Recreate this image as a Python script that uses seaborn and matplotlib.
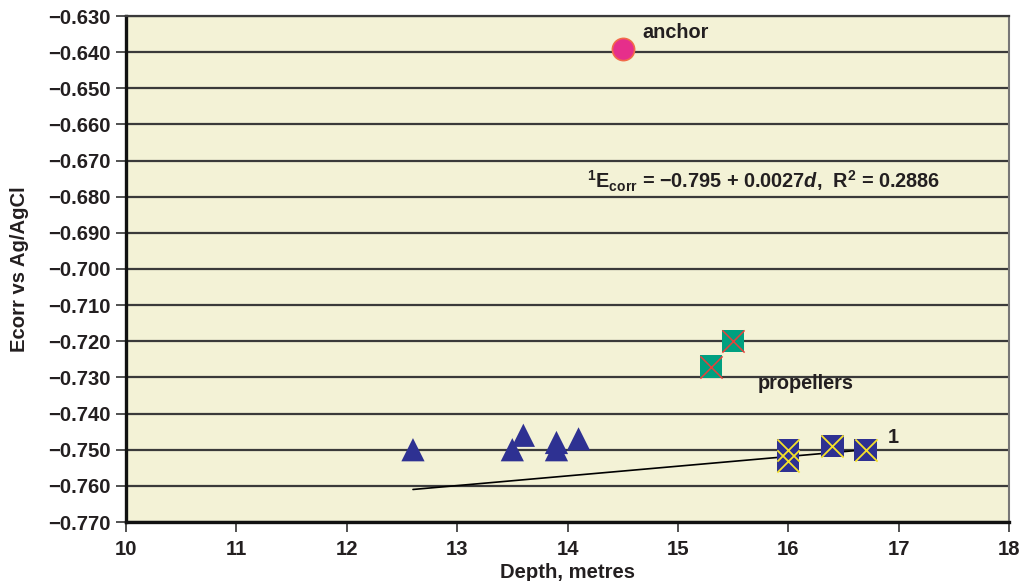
import matplotlib
matplotlib.use("Agg")
import matplotlib.pyplot as plt
import seaborn as sns
import pandas as pd

# data
tri_depth = [12.6, 13.5, 13.6, 13.9, 13.9, 14.1]
tri_ecorr = [-0.750, -0.750, -0.746, -0.748, -0.750, -0.747]

sq_depth = [16.0, 16.0, 16.4, 16.7]
sq_ecorr = [-0.750, -0.753, -0.749, -0.750]

prop_depth = [15.3, 15.5]
prop_ecorr = [-0.727, -0.720]

anchor_depth = [14.5]
anchor_ecorr = [-0.639]

fit_depth = [12.6, 16.7]
fit_ecorr = [-0.761, -0.750]

y_ticks = [-0.630 - 0.010 * i for i in range(15)]
x_ticks = list(range(10, 19))

sns.set_style("white")
plt.rcParams["font.family"] = ["Liberation Sans", "DejaVu Sans"]
plt.rcParams["font.weight"] = "bold"
plt.rcParams["mathtext.fontset"] = "custom"
plt.rcParams["mathtext.rm"] = "Liberation Sans:bold"
plt.rcParams["mathtext.it"] = "Liberation Sans:italic:bold"
plt.rcParams["mathtext.bf"] = "Liberation Sans:bold"

fig = plt.figure(figsize=(10.21, 5.81), dpi=100)
ax = fig.add_axes([126 / 1021, 1 - 522 / 581, (1009 - 126) / 1021, (522 - 16) / 581])
ax.set_facecolor("#F3F2D6")

navy = "#2E3192"
txt = "#231f20"

# grid lines
for yv in y_ticks:
    ax.axhline(yv, color="#3a3a3a", lw=1.6, zorder=1)

fit_df = pd.DataFrame({"d": fit_depth, "e": fit_ecorr})
sns.lineplot(data=fit_df, x="d", y="e", ax=ax, color="black", lw=1.2, zorder=2)

tri_df = pd.DataFrame({"d": tri_depth, "e": tri_ecorr})
sns.scatterplot(data=tri_df, x="d", y="e", ax=ax, marker="^", s=280,
                color=navy, edgecolor="none", zorder=3)

sq_df = pd.DataFrame({"d": sq_depth, "e": sq_ecorr})
sns.scatterplot(data=sq_df, x="d", y="e", ax=ax, marker="s", s=256,
                color=navy, edgecolor="none", zorder=3)
sns.scatterplot(data=sq_df, x="d", y="e", ax=ax, marker="x", s=256,
                color="#F5E12A", linewidth=1.3, zorder=4)

prop_df = pd.DataFrame({"d": prop_depth, "e": prop_ecorr})
sns.scatterplot(data=prop_df, x="d", y="e", ax=ax, marker="s", s=256,
                color="#00A080", edgecolor="none", zorder=3)
sns.scatterplot(data=prop_df, x="d", y="e", ax=ax, marker="x", s=256,
                color="#E8403A", linewidth=1.1, zorder=4)

anchor_df = pd.DataFrame({"d": anchor_depth, "e": anchor_ecorr})
sns.scatterplot(data=anchor_df, x="d", y="e", ax=ax, marker="o", s=256,
                color="#E62E8B", edgecolor="#F26A4A", linewidth=1.2, zorder=3)

# labels on the plot
fs = 14.3
ax.text(14.68, -0.6345, "anchor", fontsize=fs, fontweight="bold",
        va="center", ha="left", color=txt)
ax.text(15.72, -0.7316, "propellers", fontsize=fs, fontweight="bold",
        va="center", ha="left", color=txt)
ax.text(16.9, -0.7465, "1", fontsize=fs, fontweight="bold",
        va="center", ha="left", color=txt)
ax.text(14.18, -0.6757,
        r"$^{1}$E$_{\mathrm{corr}}$ = $\mathbf{-}$0.795 + 0.0027$\mathit{d}$,  R$^{2}$ = 0.2886",
        fontsize=fs, fontweight="bold", va="center", ha="left", color=txt)

ax.set_xlim(10, 18)
ax.set_ylim(-0.770, -0.630)
ax.set_xticks(x_ticks)
ax.set_yticks(y_ticks)
ax.set_yticklabels(["\u2212%.3f" % abs(v) for v in y_ticks])
ax.tick_params(axis="both", direction="out", length=7, width=1.2,
               labelsize=14.6, color="#333333", labelcolor=txt, pad=4,
               left=True, bottom=True)
ax.tick_params(axis="x", pad=6)
for lab in ax.get_xticklabels() + ax.get_yticklabels():
    lab.set_fontweight("bold")

ax.set_xlabel("Depth, metres", fontsize=14.6, fontweight="bold", color=txt, labelpad=3)
ax.set_ylabel("Ecorr vs Ag/AgCl", fontsize=14.6, fontweight="bold", color=txt, labelpad=14)

for side in ["left", "bottom"]:
    ax.spines[side].set_color("#111111")
    ax.spines[side].set_linewidth(2.4)
ax.spines["right"].set_color("#777777")
ax.spines["right"].set_linewidth(1.5)
ax.spines["top"].set_color("#3a3a3a")
ax.spines["top"].set_linewidth(1.6)

fig.savefig("out.png", dpi=100)
